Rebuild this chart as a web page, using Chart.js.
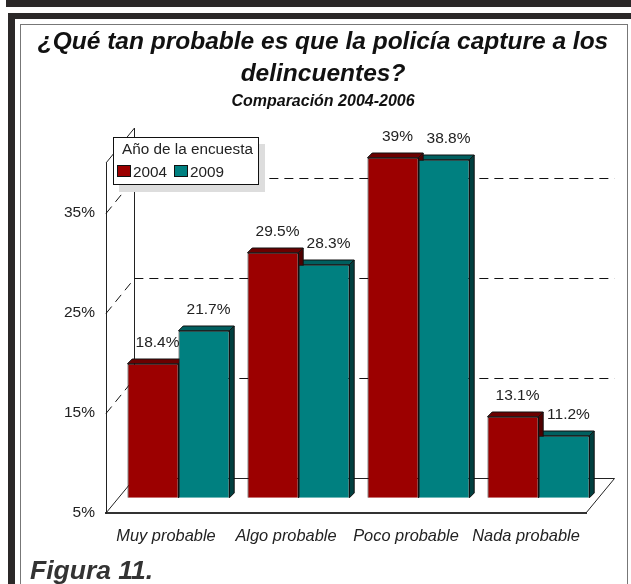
<!DOCTYPE html>
<html>
<head>
<meta charset="utf-8">
<script src="https://cdn.jsdelivr.net/npm/chart.js@4"></script>
<style>
    html, body { margin: 0; padding: 0; background: #fff; overflow: hidden; }
    #page { position: relative; width: 631px; height: 584px; overflow: hidden; }
    .band { position: absolute; background: #2b2828; }
    #inner { position: absolute; left: 20px; top: 24px; width: 606px; height: 580px; border: 1px solid #777; }
    canvas { position: absolute; left: 0; top: 0; }
    #legend {
        position: absolute; left: 113px; top: 137px; width: 146px; height: 48px; box-sizing: border-box;
        background: #fff; border: 1px solid #111; box-shadow: 6px 7px 0 #ddd;
        font: 15.3px "Liberation Sans", sans-serif; color: #222;
    }
    #legend .title { position: absolute; left: 8px; top: 2px; white-space: nowrap; }
    #legend .item { position: absolute; top: 25px; white-space: nowrap; }
    #legend .box { display: inline-block; width: 12px; height: 10px; border: 1px solid #111; margin-right: 2px; }
    #figura {
        position: absolute; left: 30px; top: 555px; color: #333;
        font: italic bold 26.5px "Liberation Sans", sans-serif;
    }
</style>
</head>
<body>
<div id="page">
    <div class="band" style="left:6px;top:0;width:625px;height:7px"></div>
    <div class="band" style="left:8px;top:13px;width:623px;height:6px"></div>
    <div class="band" style="left:8px;top:13px;width:7px;height:571px"></div>
    <div id="inner"></div>
    <canvas id="grafico" width="631" height="584"></canvas>
    <div id="legend"></div>
    <div id="figura">Figura 11.</div>
</div>
<script>
const categories = ['Muy probable', 'Algo probable', 'Poco probable', 'Nada probable'];
const years = ['2004', '2009'];
const values2004 = [18.4, 29.5, 39, 13.1];
const values2009 = [21.7, 28.3, 38.8, 11.2];
const tickValues = [5, 15, 25, 35];
const gridValues = [15, 25, 35];

const colors = ['#9c0000', '#008080'];
const topColors = ['#6b0000', '#005f5f'];
const sideColors = ['#4f0000', '#003f3f'];

// Versatz fuer den 3D Effekt
const wall = { dx: 28.5, dy: -35 };
const barShift = { dx: 12.5, dy: -15.3 };
const depth = 4.7;
const titleShift = 30;

const fake3d = {
    id: 'fake3d',
    afterLayout(chart) {
        // Titel sitzt mittig ueber dem Rahmen, nicht ueber der Achse
        chart.boxes.filter(b => b.position === 'top').forEach(b => {
            b.left += titleShift;
            b.right += titleShift;
        });
    },
    beforeDatasetsDraw(chart) {
        const ctx = chart.ctx;
        const x = chart.scales.x;
        const y = chart.scales.y;
        const left = x.left, right = x.right, floor = y.getPixelForValue(5), top = y.getPixelForValue(40);

        ctx.save();
        ctx.strokeStyle = '#222';
        ctx.lineWidth = 1;

        // Boden und Rueckwand
        const back = Math.round(floor + wall.dy) + 0.5;
        ctx.beginPath();
        ctx.moveTo(left, floor);
        ctx.lineTo(left + wall.dx, back);
        ctx.lineTo(right + wall.dx, back);
        ctx.lineTo(right, floor);
        ctx.moveTo(left + wall.dx, back);
        ctx.lineTo(left + wall.dx, top + wall.dy);
        ctx.lineTo(left, top);
        ctx.stroke();

        // Gitterlinien gestrichelt
        ctx.strokeStyle = '#111';
        ctx.setLineDash([9, 6]);
        gridValues.forEach(v => {
            const py = Math.round(y.getPixelForValue(v)) + 0.5;
            ctx.beginPath();
            ctx.moveTo(left, py);
            ctx.lineTo(left + wall.dx, py + wall.dy);
            ctx.lineTo(right + wall.dx, py + wall.dy);
            ctx.stroke();
        });
        ctx.setLineDash([]);

        // Seiten und Deckel der Balken, 2009 zuerst
        ctx.strokeStyle = '#111';
        for (let i = chart.data.datasets.length - 1; i >= 0; i--) {
            chart.getDatasetMeta(i).data.forEach(bar => {
                const x0 = bar.x - bar.width / 2 + barShift.dx;
                const x1 = bar.x + bar.width / 2 + barShift.dx;
                const yTop = bar.y + barShift.dy;
                const yBase = bar.base + barShift.dy;

                ctx.fillStyle = topColors[i];
                ctx.beginPath();
                ctx.moveTo(x0, yTop);
                ctx.lineTo(x0 + depth, yTop - depth);
                ctx.lineTo(x1 + depth, yTop - depth);
                ctx.lineTo(x1, yTop);
                ctx.closePath();
                ctx.fill();
                ctx.stroke();

                ctx.fillStyle = sideColors[i];
                ctx.beginPath();
                ctx.moveTo(x1, yTop);
                ctx.lineTo(x1 + depth, yTop - depth);
                ctx.lineTo(x1 + depth, yBase - depth);
                ctx.lineTo(x1, yBase);
                ctx.closePath();
                ctx.fill();
                ctx.stroke();
            });
        }
        ctx.restore();
    },
    beforeDatasetDraw(chart) {
        chart.ctx.save();
        chart.ctx.translate(barShift.dx, barShift.dy);
    },
    afterDatasetDraw(chart) {
        chart.ctx.restore();
    },
    afterDatasetsDraw(chart) {
        const ctx = chart.ctx;
        ctx.save();
        ctx.font = '15.5px "Liberation Sans"';
        ctx.fillStyle = '#222';
        ctx.textAlign = 'center';
        ctx.textBaseline = 'middle';
        chart.data.datasets.forEach((ds, i) => {
            chart.getDatasetMeta(i).data.forEach((bar, j) => {
                ctx.fillText(ds.data[j] + '%', bar.x + barShift.dx + 4.5, bar.y + barShift.dy - 20.5);
            });
        });
        ctx.restore();
    }
};

const chart = new Chart(document.getElementById('grafico').getContext('2d'), {
    type: 'bar',
    data: {
        labels: categories,
        datasets: [
            { label: years[0], data: values2004, base: 5, backgroundColor: colors[0], borderColor: '#111', borderWidth: 1, clip: false },
            { label: years[1], data: values2009, base: 5, backgroundColor: colors[1], borderColor: '#111', borderWidth: 1, clip: false }
        ]
    },
    options: {
        responsive: false,
        animation: false,
        layout: { padding: { left: 0, right: 45, top: 26, bottom: 0 } },
        datasets: { bar: { categoryPercentage: 0.85, barPercentage: 1 } },
        scales: {
            x: {
                grid: { display: false },
                border: { color: '#333', width: 2 },
                ticks: { color: '#222', padding: 6, maxRotation: 0, font: { family: 'Liberation Sans', size: 16.4, style: 'italic' } },
                afterFit: scale => { scale.height = 71; }
            },
            y: {
                min: 5,
                max: 40,
                grid: { display: false },
                border: { color: '#222', width: 1 },
                ticks: {
                    color: '#222',
                    padding: 3,
                    font: { family: 'Liberation Sans', size: 15.5 },
                    callback: v => v + '%'
                },
                afterBuildTicks: scale => { scale.ticks = tickValues.map(v => ({ value: v })); },
                afterFit: scale => { scale.width = 106; }
            }
        },
        plugins: {
            legend: { display: false },
            tooltip: { enabled: false },
            title: {
                display: true,
                text: ['¿Qué tan probable es que la policía capture a los', 'delincuentes?'],
                color: '#111',
                font: { family: 'Liberation Sans', size: 24.5, weight: 'bold', style: 'italic', lineHeight: 1.3 },
                padding: { top: 0, bottom: 2.2 }
            },
            subtitle: {
                display: true,
                text: 'Comparación 2004-2006',
                color: '#111',
                font: { family: 'Liberation Sans', size: 16, weight: 'bold', style: 'italic' },
                padding: { top: 0, bottom: 51.9 }
            }
        }
    },
    plugins: [fake3d]
});

// Legende als HTML, Werte kommen aus dem Chart
const legend = document.getElementById('legend');
legend.innerHTML = '<div class="title">Año de la encuesta</div>' + chart.data.datasets.map((ds, i) =>
    `<div class="item" style="left:${3 + i * 57}px"><span class="box" style="background:${ds.backgroundColor}"></span>${ds.label}</div>`
).join('');
</script>
</body>
</html>
